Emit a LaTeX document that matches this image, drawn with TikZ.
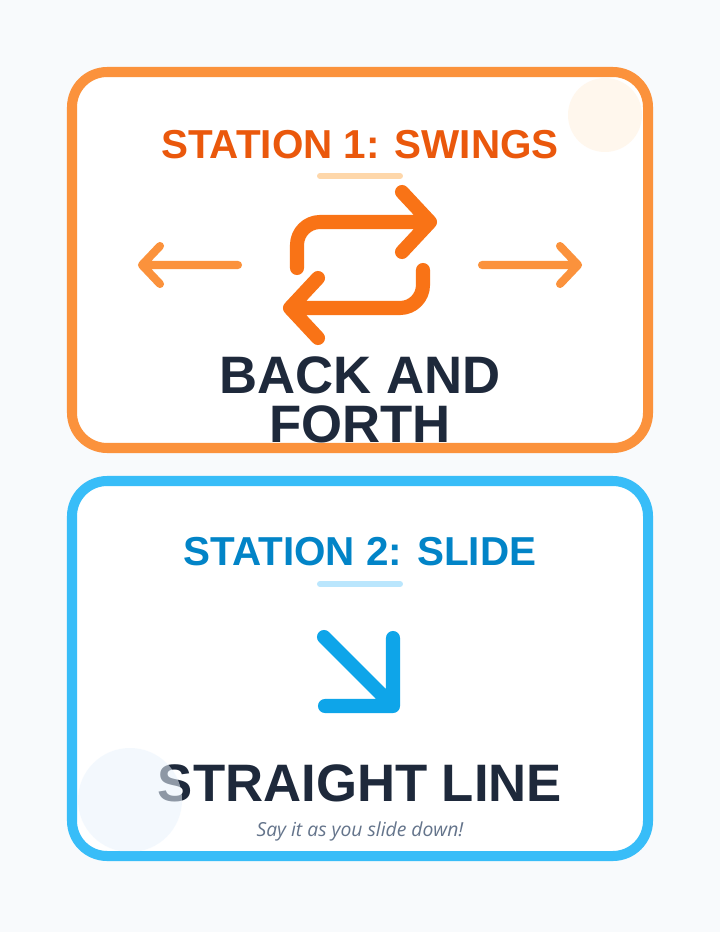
\documentclass[tikz,border=0pt]{standalone}
\usepackage{fontspec}
\setmainfont{Liberation Sans}
\newfontfamily\sayfont{Open Sans}
\definecolor{bgcol}{HTML}{F8FAFC}
\definecolor{orangeline}{HTML}{FB923C}
\definecolor{orangetext}{HTML}{EA580C}
\definecolor{orangeicon}{HTML}{F97316}
\definecolor{orangebar}{HTML}{FED7AA}
\definecolor{orangedot}{HTML}{FFF7ED}
\definecolor{blueline}{HTML}{38BDF8}
\definecolor{bluetext}{HTML}{0284C7}
\definecolor{blueicon}{HTML}{0EA5E9}
\definecolor{bluebar}{HTML}{BAE6FD}
\definecolor{bluedot}{HTML}{EAF4FD}
\definecolor{darktext}{HTML}{1E293B}
\definecolor{greytext}{HTML}{64748B}
\begin{document}
\begin{tikzpicture}
[
    x=0.02cm, y=-0.02cm,
    card_box/.style={line width=5.7pt, fill=white, rounded corners=20pt},
    title_text/.style={font=\bfseries\fontsize{23}{26}\selectfont},
    big_text/.style={font=\bfseries\fontsize{30}{28}\selectfont, text=darktext, align=center},
    icon_line/.style={line cap=round, line join=round},
]
    \fill[bgcol] (0,0) rectangle (720,932);
    % station 1
    \draw[card_box, draw=orangeline] (72,72) rectangle (648,448);
    \begin{scope}
        \clip[rounded corners=17pt] (77,77) rectangle (643,443);
        \fill[orangedot] (605,115) circle (37);
        \node[big_text] (backforth) at (360,400) {BACK AND\\FORTH};
    \end{scope}
    \node[title_text, text=orangetext] (title1) at (360,145) {STATION 1: SWINGS};
    \draw[orangebar, line width=3.4pt, line cap=round] (320,176) -- (400,176);
    \coordinate (leftstart) at (238,265);
    \coordinate (leftend) at (142,265);
    \coordinate (rightstart) at (482,265);
    \coordinate (rightend) at (578,265);
    \draw[icon_line, orangeline, line width=4.6pt] (leftstart) -- (leftend) (160,246) -- (leftend) -- (160,284);
    \draw[icon_line, orangeline, line width=4.6pt] (rightstart) -- (rightend) (560,246) -- (rightend) -- (560,284);
    \draw[icon_line, orangeicon, line width=8pt] (297,268) -- (297,245) arc (180:270:23) -- (430,222) (402,192) -- (430,222) -- (402,252);
    \draw[icon_line, orangeicon, line width=8pt] (423,270) -- (423,285) arc (0:90:23) -- (290,308) (318,278) -- (290,308) -- (318,338);
    % station 2
    \draw[card_box, draw=blueline] (72,481) rectangle (648,856);
    \node[title_text, text=bluetext] (title2) at (360,552) {STATION 2: SLIDE};
    \draw[bluebar, line width=3.4pt, line cap=round] (320,584) -- (400,584);
    \draw[icon_line, blueicon, line width=8pt] (324,637) -- (393,706) (393,638) -- (393,706) -- (325,706);
    \node[big_text] (straight) at (360,783) {STRAIGHT LINE};
    \begin{scope}
        \clip[rounded corners=17pt] (77,486) rectangle (643,851);
        \fill[bluedot, opacity=0.55] (130,800) circle (52);
    \end{scope}
    \node[font=\sayfont\itshape\fontsize{11}{13}\selectfont, text=greytext] (sayit) at (360,831) {Say it as you slide down!};
\end{tikzpicture}
\end{document}
